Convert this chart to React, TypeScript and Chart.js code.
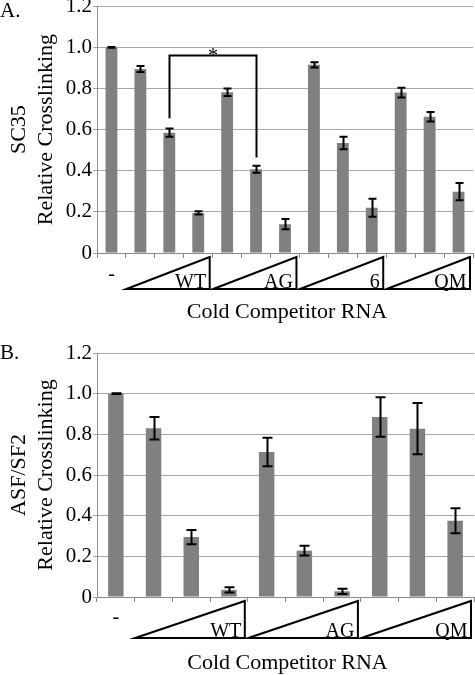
import React, { useEffect, useRef } from 'react';
import { Chart, registerables } from 'chart.js';
Chart.register(...registerables);

const SERIF = '"Liberation Serif", "Times New Roman", serif';

// ---- Data ----
const categoriesA = ['-', 'WT-1', 'WT-2', 'WT-3', 'AG-1', 'AG-2', 'AG-3', '6-1', '6-2', '6-3', 'QM-1', 'QM-2', 'QM-3'];
const valuesA = [1.0, 0.895, 0.585, 0.195, 0.782, 0.407, 0.14, 0.915, 0.535, 0.22, 0.78, 0.663, 0.298];
const errorsA = [0.002, 0.015, 0.02, 0.008, 0.018, 0.017, 0.025, 0.013, 0.03, 0.044, 0.024, 0.023, 0.042];
const groupsA = ['WT', 'AG', '6', 'QM'];
const bracketA = { from: 2, to: 5, top: 0.96, leftEnd: 0.655, rightEnd: 0.465, label: '*' };

const categoriesB = ['-', 'WT-1', 'WT-2', 'WT-3', 'AG-1', 'AG-2', 'AG-3', 'QM-1', 'QM-2', 'QM-3'];
const valuesB = [1.0, 0.83, 0.295, 0.035, 0.713, 0.228, 0.028, 0.885, 0.828, 0.375];
const errorsB = [0.002, 0.055, 0.035, 0.013, 0.07, 0.024, 0.013, 0.097, 0.126, 0.061];
const groupsB = ['WT', 'AG', 'QM'];

const yTickLabels = ['0', '0.2', '0.4', '0.6', '0.8', '1.0', '1.2'];
const xTitle = 'Cold Competitor RNA';

const decorPlugin = {
  id: 'decor',
  afterDatasetsDraw(chart: any, _args: any, o: any) {
    const ctx = chart.ctx;
    const xs = chart.scales.x;
    const ys = chart.scales.y;
    ctx.save();
    ctx.strokeStyle = '#000';
    ctx.lineWidth = 2;
    o.values.forEach((v: number, i: number) => {
      const e = o.errors[i];
      const px = Math.round(xs.getPixelForValue(i)) + 0.5;
      const yT = ys.getPixelForValue(v + e);
      const yB = ys.getPixelForValue(v - e);
      ctx.beginPath();
      ctx.moveTo(px, yT);
      ctx.lineTo(px, yB);
      ctx.moveTo(px - o.capHalf, yT);
      ctx.lineTo(px + o.capHalf, yT);
      ctx.moveTo(px - o.capHalf, yB);
      ctx.lineTo(px + o.capHalf, yB);
      ctx.stroke();
    });
    ctx.restore();
  },
  afterDraw(chart: any, _args: any, o: any) {
    const ctx = chart.ctx;
    const xs = chart.scales.x;
    const ys = chart.scales.y;
    const area = chart.chartArea;
    const half = (area.right - area.left) / o.nCat / 2;
    ctx.save();
    ctx.fillStyle = '#000';
    ctx.strokeStyle = '#000';
    ctx.lineWidth = 2;
    ctx.lineJoin = 'miter';
    // triangles
    o.groups.forEach((g: string, gi: number) => {
      const s = 1 + gi * 3;
      const e = s + 2;
      const left = xs.getPixelForValue(s) - half + 0.5;
      const right = xs.getPixelForValue(e) + half - 3;
      const top = area.bottom + 4;
      const bottom = top + o.triH;
      ctx.beginPath();
      ctx.moveTo(left, bottom);
      ctx.lineTo(right, top);
      ctx.lineTo(right, bottom);
      ctx.closePath();
      ctx.stroke();
      ctx.font = `20px ${SERIF}`;
      ctx.textAlign = 'right';
      ctx.textBaseline = 'alphabetic';
      ctx.fillText(g, right - 3.5, bottom - 1.5);
    });
    // dash label
    ctx.font = `20px ${SERIF}`;
    ctx.textAlign = 'center';
    ctx.textBaseline = 'middle';
    ctx.fillText('-', xs.getPixelForValue(0), area.bottom + o.dashOff);
    // x title
    ctx.font = `22px ${SERIF}`;
    ctx.fillText(xTitle, (area.left + area.right) / 2 + 2, area.bottom + o.titleOff);
    // panel letter
    ctx.font = `21px ${SERIF}`;
    ctx.textAlign = 'left';
    ctx.fillText(o.letter, 0, o.letterY);
    // bracket
    if (o.bracket) {
      const b = o.bracket;
      const x1 = Math.round(xs.getPixelForValue(b.from)) + 0.5;
      const x2 = Math.round(xs.getPixelForValue(b.to)) + 0.5;
      const yt = ys.getPixelForValue(b.top);
      ctx.beginPath();
      ctx.moveTo(x1, ys.getPixelForValue(b.leftEnd));
      ctx.lineTo(x1, yt);
      ctx.lineTo(x2, yt);
      ctx.lineTo(x2, ys.getPixelForValue(b.rightEnd));
      ctx.stroke();
      ctx.font = `20px ${SERIF}`;
      ctx.textAlign = 'center';
      ctx.textBaseline = 'alphabetic';
      ctx.fillText(b.label, (x1 + x2) / 2, yt + 6);
    }
    ctx.restore();
  },
};

type PanelProps = {
  top: number;
  height: number;
  letter: string;
  letterY: number;
  protein: string;
  categories: string[];
  values: number[];
  errors: number[];
  groups: string[];
  bracket?: any;
  padTop: number;
  padRight: number;
  xHeight: number;
  triH: number;
  capHalf: number;
  dashOff: number;
  titleOff: number;
};

function Panel(p: PanelProps) {
  const ref = useRef<HTMLCanvasElement>(null);
  useEffect(() => {
    if (!ref.current) return;
    const chart = new Chart(ref.current, {
      type: 'bar',
      data: {
        labels: p.categories,
        datasets: [
          {
            data: p.values,
            backgroundColor: '#808080',
            borderWidth: 0,
            categoryPercentage: 1,
            barPercentage: 0.41,
          },
        ],
      },
      options: {
        animation: false,
        responsive: false,
        devicePixelRatio: 1,
        layout: { padding: { top: p.padTop, right: p.padRight, left: 0, bottom: 0 } },
        plugins: {
          legend: { display: false },
          tooltip: { enabled: false },
          decor: {
            values: p.values,
            errors: p.errors,
            groups: p.groups,
            nCat: p.categories.length,
            bracket: p.bracket,
            letter: p.letter,
            letterY: p.letterY,
            triH: p.triH,
            capHalf: p.capHalf,
            dashOff: p.dashOff,
            titleOff: p.titleOff,
          },
        } as any,
        scales: {
          x: {
            type: 'category',
            offset: true,
            grid: {
              offset: true,
              drawOnChartArea: false,
              drawTicks: true,
              tickLength: 5,
              color: '#8a8a8a',
            },
            border: { color: '#8a8a8a', width: 1 },
            ticks: { display: false },
            afterFit: (s: any) => {
              s.height = p.xHeight;
            },
          },
          y: {
            min: 0,
            max: 1.2,
            ticks: {
              stepSize: 0.2,
              color: '#000',
              padding: 1,
              font: { family: SERIF, size: 21, lineHeight: 0.5 },
              callback: (_v: any, i: number) => yTickLabels[i],
            },
            grid: { color: '#a8a8a8', lineWidth: 1, drawTicks: true, tickLength: 4 },
            border: { color: '#8a8a8a', width: 1 },
            title: {
              display: true,
              text: [p.protein, 'Relative Crosslinking'],
              color: '#000',
              font: { family: SERIF, size: 22, lineHeight: '27px' as any },
              padding: { top: 5.5, bottom: 0 },
            },
            afterFit: (s: any) => {
              s.width = 97;
            },
          },
        },
      },
      plugins: [decorPlugin as any],
    });
    return () => chart.destroy();
  }, []);
  return (
    <canvas
      ref={ref}
      width={475}
      height={p.height}
      style={{ position: 'absolute', left: 0, top: p.top, width: 475, height: p.height }}
    />
  );
}

export default function App() {
  return (
    <div style={{ position: 'absolute', left: 0, top: 0, width: 475, height: 675, background: '#fff' }}>
      <Panel
        top={0}
        height={330}
        letter="A."
        letterY={11}
        protein="SC35"
        categories={categoriesA}
        values={valuesA}
        errors={errorsA}
        groups={groupsA}
        bracket={bracketA}
        padTop={6}
        padRight={2}
        xHeight={77}
        triH={32}
        capHalf={4}
        dashOff={22}
        titleOff={59}
      />
      <Panel
        top={330}
        height={345}
        letter="B."
        letterY={23}
        protein="ASF/SF2"
        categories={categoriesB}
        values={valuesB}
        errors={errorsB}
        groups={groupsB}
        padTop={23}
        padRight={1}
        xHeight={78}
        triH={37}
        capHalf={5}
        dashOff={21}
        titleOff={66}
      />
    </div>
  );
}
